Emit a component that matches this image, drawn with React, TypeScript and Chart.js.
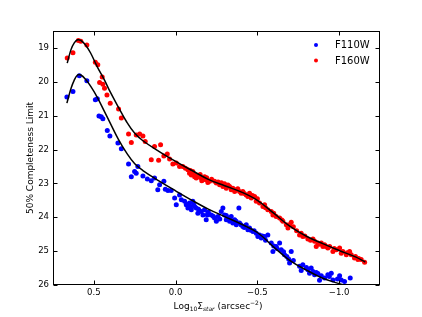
import React, { useEffect, useRef } from "react";
import { Chart, registerables } from "chart.js";
Chart.register(...registerables);

// F110W scatter (blue)
const f110X = [0.665, 0.628, 0.589, 0.543, 0.491, 0.479, 0.469, 0.455, 0.445, 0.418, 0.402, 0.353, 0.332, 0.288, 0.271, 0.251, 0.241, 0.231, 0.2, 0.173, 0.149, 0.129, 0.109, 0.098, 0.072, 0.063, 0.047, 0.027, 0.006, -0.004, -0.024, -0.035, -0.055, -0.065, -0.075, -0.085, -0.096, -0.105, -0.116, -0.136, -0.126, -0.157, -0.177, -0.194, -0.167, -0.187, -0.197, -0.218, -0.238, -0.249, -0.259, -0.279, -0.289, -0.299, -0.31, -0.32, -0.33, -0.34, -0.35, -0.361, -0.371, -0.387, -0.391, -0.411, -0.432, -0.442, -0.452, -0.473, -0.493, -0.503, -0.513, -0.524, -0.544, -0.564, -0.585, -0.595, -0.615, -0.636, -0.646, -0.666, -0.68, -0.691, -0.707, -0.697, -0.758, -0.778, -0.768, -0.809, -0.819, -0.829, -0.85, -0.86, -0.88, -0.891, -0.911, -0.931, -0.952, -0.962, -1.003, -1.013, -1.033, -1.068, -0.07, -0.09, -0.11, -0.14, -0.2, -0.23, -0.27, -0.31, -0.34, -0.37, -0.4, -0.42, -0.46, -0.48, -0.53, -0.55, -0.6, -0.62, -0.66, -0.72, -0.8, -0.84, -0.87, -0.94, -0.99];
const f110Y = [20.45, 20.29, 19.82, 19.97, 20.53, 20.5, 21.01, 21.03, 21.09, 21.44, 21.6, 21.81, 21.98, 22.43, 22.8, 22.65, 22.7, 22.5, 22.78, 22.87, 22.92, 22.84, 23.19, 23.04, 22.94, 23.17, 23.21, 23.21, 23.43, 23.63, 23.34, 23.48, 23.53, 23.63, 23.73, 23.58, 23.78, 23.53, 23.68, 23.88, 23.73, 23.83, 23.78, 23.93, 23.93, 24.07, 23.88, 23.93, 24.02, 24.12, 23.98, 23.83, 23.73, 23.93, 24.07, 24.02, 24.12, 23.98, 24.17, 24.07, 24.22, 23.73, 24.17, 24.27, 24.22, 24.37, 24.32, 24.42, 24.47, 24.57, 24.52, 24.61, 24.57, 24.52, 24.76, 25.01, 24.86, 24.76, 24.96, 25.11, 25.16, 25.23, 25.01, 25.35, 25.45, 25.4, 25.57, 25.55, 25.65, 25.5, 25.7, 25.63, 25.86, 25.73, 25.79, 25.7, 25.65, 25.85, 25.73, 25.85, 25.9, 25.79, 23.62, 23.7, 23.62, 23.76, 23.85, 23.97, 24.05, 23.95, 24.1, 24.12, 24.22, 24.3, 24.38, 24.4, 24.55, 24.68, 24.85, 24.92, 25.02, 25.28, 25.48, 25.6, 25.66, 25.75, 25.82];

// F160W scatter (red)
const f160X = [0.663, 0.628, 0.595, 0.58, 0.543, 0.491, 0.476, 0.449, 0.465, 0.445, 0.435, 0.42, 0.4, 0.349, 0.332, 0.288, 0.271, 0.241, 0.22, 0.2, 0.186, 0.129, 0.092, 0.149, 0.104, 0.072, 0.051, 0.037, 0.017, -0.004, -0.024, -0.044, -0.075, -0.085, -0.096, -0.105, -0.116, -0.126, -0.146, -0.167, -0.187, -0.197, -0.177, -0.157, -0.208, -0.238, -0.249, -0.269, -0.289, -0.299, -0.31, -0.33, -0.34, -0.35, -0.361, -0.371, -0.391, -0.401, -0.411, -0.432, -0.442, -0.452, -0.463, -0.483, -0.493, -0.513, -0.534, -0.544, -0.564, -0.585, -0.595, -0.615, -0.636, -0.656, -0.677, -0.687, -0.697, -0.707, -0.758, -0.778, -0.768, -0.809, -0.825, -0.85, -0.86, -0.87, -0.891, -0.901, -0.911, -0.931, -0.942, -0.962, -0.983, -1.003, -1.013, -1.023, -1.044, -1.064, -1.074, -1.094, -1.115, -1.135, -1.156, -0.06, -0.09, -0.11, -0.13, -0.15, -0.16, -0.19, -0.22, -0.26, -0.28, -0.32, -0.38, -0.42, -0.47, -0.5, -0.55, -0.6, -0.65, -0.72, -0.74, -0.79, -0.84, -0.88, -0.92, -0.97, -1.05, -1.1, -1.12];
const f160Y = [19.3, 19.14, 18.78, 18.8, 18.91, 19.42, 19.5, 19.86, 20.02, 20.07, 20.19, 20.39, 20.63, 20.8, 21.07, 21.54, 21.79, 21.57, 21.54, 21.6, 21.76, 21.91, 21.86, 22.3, 22.32, 22.19, 22.13, 22.28, 22.43, 22.4, 22.5, 22.5, 22.6, 22.7, 22.75, 22.65, 22.8, 22.84, 22.81, 22.89, 22.89, 22.97, 22.8, 22.84, 22.94, 22.94, 22.99, 23.04, 23.09, 23.01, 23.14, 23.09, 23.19, 23.14, 23.24, 23.19, 23.24, 23.29, 23.24, 23.34, 23.39, 23.29, 23.43, 23.39, 23.53, 23.58, 23.68, 23.63, 23.78, 23.83, 23.93, 23.98, 24.02, 24.12, 24.22, 24.32, 24.22, 24.15, 24.52, 24.57, 24.47, 24.64, 24.68, 24.71, 24.86, 24.76, 24.76, 24.86, 24.81, 24.91, 24.86, 25.01, 24.96, 24.91, 25.06, 25.01, 25.11, 25.01, 25.11, 25.2, 25.25, 25.25, 25.33, 22.55, 22.62, 22.72, 22.76, 22.74, 22.92, 22.83, 22.88, 22.96, 22.98, 23.05, 23.16, 23.3, 23.36, 23.45, 23.72, 23.88, 24.08, 24.28, 24.4, 24.55, 24.64, 24.8, 24.86, 24.92, 25.05, 25.16, 25.22];

// Fitted curves (black)
const fit110X = [0.665, 0.64, 0.62, 0.6, 0.58, 0.55, 0.52, 0.48, 0.435, 0.4, 0.35, 0.3, 0.25, 0.2, 0.1, 0.0, -0.1, -0.2, -0.3, -0.4, -0.5, -0.6, -0.7, -0.8, -0.9, -1.0, -1.04];
const fit110Y = [20.63, 20.2, 19.95, 19.8, 19.8, 19.93, 20.13, 20.45, 20.88, 21.22, 21.7, 22.1, 22.42, 22.62, 22.93, 23.22, 23.5, 23.76, 23.98, 24.2, 24.45, 24.88, 25.28, 25.56, 25.8, 25.96, 26.02];
const fit160X = [0.663, 0.64, 0.62, 0.6, 0.58, 0.55, 0.52, 0.48, 0.435, 0.4, 0.35, 0.3, 0.25, 0.2, 0.1, 0.0, -0.1, -0.2, -0.3, -0.4, -0.5, -0.6, -0.7, -0.8, -0.9, -1.0, -1.1, -1.16];
const fit160Y = [19.45, 19.05, 18.85, 18.76, 18.78, 18.92, 19.15, 19.55, 19.95, 20.3, 20.75, 21.18, 21.52, 21.74, 22.06, 22.35, 22.62, 22.88, 23.07, 23.25, 23.5, 23.88, 24.27, 24.56, 24.78, 24.98, 25.17, 25.32];

const xTicks = [0.5, 0.0, -0.5, -1.0];
const xTickLabels = ["0.5", "0.0", "\u22120.5", "\u22121.0"];
const yTicks = [19, 20, 21, 22, 23, 24, 25, 26];
const yTickLabels = ["19", "20", "21", "22", "23", "24", "25", "26"];
const legendLabels = ["F110W", "F160W"];
const seriesColors = ["#0000ff", "#ff0000"];
const yTitle = "50% Completeness Limit";
const xTitleParts = [
  { t: "Log", sub: 0 },
  { t: "10", sub: 1 },
  { t: "\u03A3", sub: 0 },
  { t: "star", sub: 1 },
  { t: " (arcsec", sub: 0 },
  { t: "\u22122", sub: -1 },
  { t: ")", sub: 0 },
];

const FONT = "'DejaVu Sans', sans-serif";

export default function App() {
  const ref = useRef<HTMLCanvasElement>(null);
  useEffect(() => {
    document.body.style.margin = "0";
    const pts = (xs: number[], ys: number[]) => xs.map((x, i) => ({ x, y: ys[i] }));

    const decor = {
      id: "decor",
      afterDraw(chart: any) {
        const ctx = chart.ctx;
        const { left, right, top, bottom } = chart.chartArea;
        const xs = chart.scales.x;
        const ys = chart.scales.y;
        ctx.save();
        ctx.strokeStyle = "#000";
        ctx.lineWidth = 1;
        const L = Math.round(left) + 0.5, R = Math.round(right) - 0.5;
        const T = Math.round(top) + 0.5, B = Math.round(bottom) - 0.5;
        ctx.strokeRect(L, T, R - L, B - T);
        ctx.beginPath();
        xTicks.forEach((v) => {
          const p = Math.round(xs.getPixelForValue(v)) + 0.5;
          ctx.moveTo(p, B); ctx.lineTo(p, B - 4);
          ctx.moveTo(p, T); ctx.lineTo(p, T + 4);
        });
        yTicks.forEach((v) => {
          const p = Math.round(ys.getPixelForValue(v)) + 0.5;
          ctx.moveTo(L, p); ctx.lineTo(L + 4, p);
          ctx.moveTo(R, p); ctx.lineTo(R - 4, p);
        });
        ctx.stroke();

        // legend
        legendLabels.forEach((lab, i) => {
          const y = 45 + i * 15.5;
          ctx.fillStyle = seriesColors[i];
          ctx.beginPath();
          ctx.arc(316, y, 2, 0, Math.PI * 2);
          ctx.fill();
          ctx.fillStyle = "#000";
          ctx.font = `10px ${FONT}`;
          ctx.textAlign = "left";
          ctx.textBaseline = "middle";
          ctx.fillText(lab, 335, y + 0.5);
        });

        // x title with sub/superscripts
        const big = `9px ${FONT}`, small = `6px ${FONT}`, smallIt = `italic 6px ${FONT}`;
        const fontOf = (p: any) => (p.sub === 0 ? big : p.t === "star" ? smallIt : small);
        let total = 0;
        xTitleParts.forEach((p) => { ctx.font = fontOf(p); total += ctx.measureText(p.t).width; });
        let x = (left + right) / 2 + 1.5 - total / 2;
        const base = 309;
        ctx.textAlign = "left";
        ctx.textBaseline = "alphabetic";
        ctx.fillStyle = "#000";
        xTitleParts.forEach((p) => {
          ctx.font = fontOf(p);
          const dy = p.sub === 1 ? 2 : p.sub === -1 ? -4 : 0;
          ctx.fillText(p.t, x, base + dy);
          x += ctx.measureText(p.t).width;
        });
        ctx.restore();
      },
    };

    const chart = new Chart(ref.current as HTMLCanvasElement, {
      type: "scatter",
      data: {
        datasets: [
          { label: "fit110", data: pts(fit110X, fit110Y), showLine: true, borderColor: "#000", borderWidth: 1.5, pointRadius: 0, tension: 0.4, order: 0 },
          { label: "fit160", data: pts(fit160X, fit160Y), showLine: true, borderColor: "#000", borderWidth: 1.5, pointRadius: 0, tension: 0.4, order: 0 },
          { label: legendLabels[0], data: pts(f110X, f110Y), backgroundColor: seriesColors[0], borderWidth: 0, pointRadius: 2.5, order: 1 },
          { label: legendLabels[1], data: pts(f160X, f160Y), backgroundColor: seriesColors[1], borderWidth: 0, pointRadius: 2.5, order: 1 },
        ],
      },
      options: {
        responsive: false,
        animation: false,
        events: [],
        layout: { padding: { top: 31, right: 42, left: 0, bottom: 0 } },
        plugins: { legend: { display: false }, tooltip: { enabled: false } },
        scales: {
          x: {
            type: "linear",
            reverse: true,
            min: -1.25,
            max: 0.75,
            grid: { display: false, drawTicks: false },
            border: { display: false },
            afterBuildTicks: (s: any) => { s.ticks = xTicks.map((v) => ({ value: v })); },
            afterFit: (s: any) => { s.height = 32; },
            ticks: {
              autoSkip: false,
              maxRotation: 0,
              padding: 3,
              color: "#000",
              font: { family: FONT, size: 8.5 },
              callback: (v: any) => xTickLabels[xTicks.indexOf(Number(v))] ?? "",
            },
          },
          y: {
            type: "linear",
            reverse: true,
            min: 18.5,
            max: 26,
            grid: { display: false, drawTicks: false },
            border: { display: false },
            afterBuildTicks: (s: any) => { s.ticks = yTicks.map((v) => ({ value: v })); },
            afterFit: (s: any) => { s.width = 53; },
            title: {
              display: true,
              text: yTitle,
              color: "#000",
              font: { family: FONT, size: 9 },
              padding: { top: 25.6, bottom: 0 },
            },
            ticks: {
              autoSkip: false,
              padding: 4,
              color: "#000",
              font: { family: FONT, size: 8.5 },
              callback: (v: any) => yTickLabels[yTicks.indexOf(Number(v))] ?? "",
            },
          },
        },
      },
      plugins: [decor],
    });
    return () => chart.destroy();
  }, []);
  return (
    <div style={{ width: 422, height: 317 }}>
      <canvas ref={ref} width={422} height={317} style={{ display: "block" }} />
    </div>
  );
}
